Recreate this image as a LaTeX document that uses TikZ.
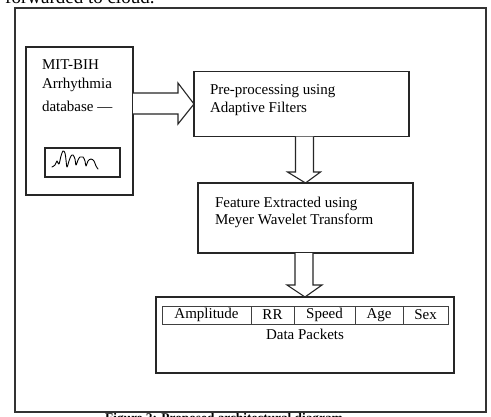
\documentclass[tikz,border=0pt]{standalone}
\usepackage{fontspec}
\setmainfont{Liberation Serif}
\usetikzlibrary{calc}
\begin{document}
\begin{tikzpicture}[x=1pt,y=-1pt,
  box/.style={draw=black!85,line width=1.2pt,inner sep=0pt,outer sep=0pt,rectangle},
  cell/.style={draw=black!75,line width=0.9pt,inner sep=0pt,outer sep=0pt,rectangle,minimum height=18pt,font=\fontsize{15}{18}\selectfont},
  txt/.style={inner sep=0pt,outer sep=0pt,anchor=base west,font=\fontsize{15}{18}\selectfont},
  fat/.style={draw=black!85,line width=1.1pt,line join=miter,fill=white}]
\useasboundingbox (0,0) rectangle (491,416);
% clipped text above and below
\node[inner sep=0pt,anchor=base west,font=\fontsize{19}{22}\selectfont] (top) at (5,3.5) {forwarded to cloud.};
\node[inner sep=0pt,anchor=north west,font=\bfseries\fontsize{13.3}{16}\selectfont] (cap) at (105,413.5) {Figure 2: Proposed architectural diagram};
% outer frame
\node[box,draw=black!80,line width=1.4pt,minimum width=471pt,minimum height=404pt,anchor=north west] (frame) at (15,8) {};
% source box
\node[box,minimum width=107pt,minimum height=148pt,anchor=north west] (src) at (26,47) {};
\node[txt] (t1) at (42,69) {MIT-BIH};
\node[txt] (t2) at (42,88) {Arrhythmia};
\node[txt] (t3) at (42,111) {database —};
\node[box,line width=1.1pt,minimum width=75pt,minimum height=29pt,anchor=north west] (wave) at (45,148) {};
\draw[line width=0.9pt,line join=round,line cap=round]
  plot[smooth,tension=0.55] coordinates {(52,167) (55,165) (57,161) (59,164) (61,156) (63,151) (65,153) (66,160) (67,167) (69,161) (71,156) (73,155) (75,159) (76,165) (78,160) (80,157) (83,157) (85,161) (86,166) (88,161) (91,159) (94,161) (96,166) (98,169)};
% pre-processing box
\node[box,minimum width=215pt,minimum height=65pt,anchor=north west] (pre) at (194,71.5) {};
\node[txt] (p1) at (210,94) {Pre-processing using};
\node[txt] (p2) at (210,112) {Adaptive Filters};
% feature box
\node[box,minimum width=215pt,minimum height=70pt,anchor=north west] (feat) at (198,183) {};
\node[txt] (f1) at (215,207) {Feature Extracted using};
\node[txt] (f2) at (215,224) {Meyer Wavelet Transform};
% data packets box
\node[box,minimum width=298pt,minimum height=76pt,anchor=north west] (data) at (156,297) {};
\node[cell,minimum width=89pt,anchor=north west] (c1) at (162,306) {Amplitude};
\node[cell,minimum width=43pt,anchor=north west] (c2) at (251,306) {RR};
\node[cell,minimum width=61pt,anchor=north west] (c3) at (294,306) {Speed};
\node[cell,minimum width=48pt,anchor=north west] (c4) at (355,306) {Age};
\node[cell,minimum width=45pt,anchor=north west] (c5) at (403,306) {Sex};
\node[txt,anchor=base] (dp) at (305,339) {Data Packets};
% fat arrow: source -> pre
\draw[fat] ($(src.east|-pre.west)+(0,-11)$) -- ($(pre.west)+(-16,-11)$) -- ($(pre.west)+(-16,-21)$)
  -- (pre.west) -- ($(pre.west)+(-16,20)$) -- ($(pre.west)+(-16,10)$) -- ($(src.east|-pre.west)+(0,10)$);
% fat arrow: pre -> feat
\draw[fat] ($(feat.north|-pre.south)+(-10,0)$) -- ($(feat.north)+(-10,-11)$) -- ($(feat.north)+(-18,-11)$)
  -- (feat.north) -- ($(feat.north)+(15,-11)$) -- ($(feat.north)+(8,-11)$) -- ($(feat.north|-pre.south)+(8,0)$);
% fat arrow: feat -> data
\draw[fat] ($(data.north|-feat.south)+(-10,0)$) -- ($(data.north)+(-10,-12)$) -- ($(data.north)+(-18,-12)$)
  -- (data.north) -- ($(data.north)+(17,-12)$) -- ($(data.north)+(8,-12)$) -- ($(data.north|-feat.south)+(8,0)$);
\end{tikzpicture}
\end{document}
